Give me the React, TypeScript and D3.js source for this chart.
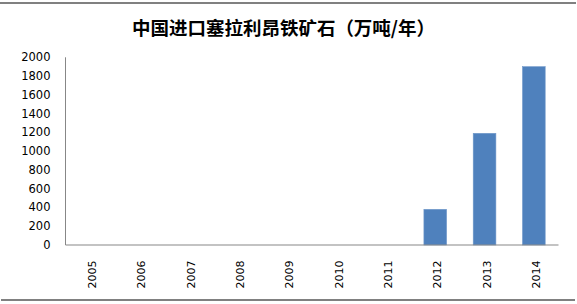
import React from "react";
import * as d3 from "d3";

const years = ["2005", "2006", "2007", "2008", "2009", "2010", "2011", "2012", "2013", "2014"];
const imports = [0, 0, 0, 0, 0, 0, 0, 380, 1190, 1900];
const yTicks = [0, 200, 400, 600, 800, 1000, 1200, 1400, 1600, 1800, 2000];
const title = "中国进口塞拉利昂铁矿石（万吨/年）";

const W = 577;
const H = 304;
const plot = { left: 65.5, right: 558.5, top: 57.3, bottom: 245 };

export default function App() {
  const x = d3
    .scaleBand<string>()
    .domain(years)
    .range([plot.left, plot.right])
    .paddingInner(0.54)
    .paddingOuter(0.27);
  const y = d3.scaleLinear().domain([0, 2000]).range([plot.bottom, plot.top]);

  return (
    <svg
      width={W}
      height={H}
      style={{ position: "absolute", left: 0, top: 0, background: "#fff" }}
    >
      <rect x={0} y={0} width={W} height={H} fill="#fff" />
      <line x1={0} x2={576} y1={3} y2={3} stroke="#808080" strokeWidth={2} />
      <line x1={1} x2={575} y1={300} y2={300} stroke="#808080" strokeWidth={2} />
      <text
        x={132}
        y={35}
        textLength={303}
        lengthAdjust="spacing"
        fontFamily="'Noto Sans CJK SC', sans-serif"
        fontWeight="bold"
        fontSize={18.5}
        fill="#000"
      >
        {title}
      </text>
      {years.map((yr, i) => (
        <rect
          key={yr}
          x={x(yr)!}
          y={y(imports[i])}
          width={x.bandwidth()}
          height={plot.bottom - y(imports[i])}
          fill="#4F81BD"
          stroke="#6f97c9"
          strokeWidth={imports[i] > 0 ? 0.6 : 0}
        />
      ))}
      <line x1={plot.left} x2={plot.left} y1={plot.top} y2={plot.bottom} stroke="#878787" strokeWidth={1} />
      <line x1={plot.left} x2={plot.right} y1={plot.bottom} y2={plot.bottom} stroke="#878787" strokeWidth={1} />
      {yTicks.map((t) => (
        <text
          key={t}
          x={50.5}
          y={y(t)}
          textAnchor="end"
          dominantBaseline="central"
          fontFamily="'DejaVu Sans', Verdana, sans-serif"
          fontSize={11.5}
          fill="#000"
        >
          {t}
        </text>
      ))}
      {years.map((yr) => {
        const cx = x(yr)! + x.bandwidth() / 2 + 2.5;
        return (
          <text
            key={yr}
            transform={`translate(${cx},260.5) rotate(-90)`}
            textAnchor="end"
            dominantBaseline="central"
            fontFamily="'DejaVu Sans', Verdana, sans-serif"
            fontSize={11}
            fill="#000"
          >
            {yr}
          </text>
        );
      })}
    </svg>
  );
}
